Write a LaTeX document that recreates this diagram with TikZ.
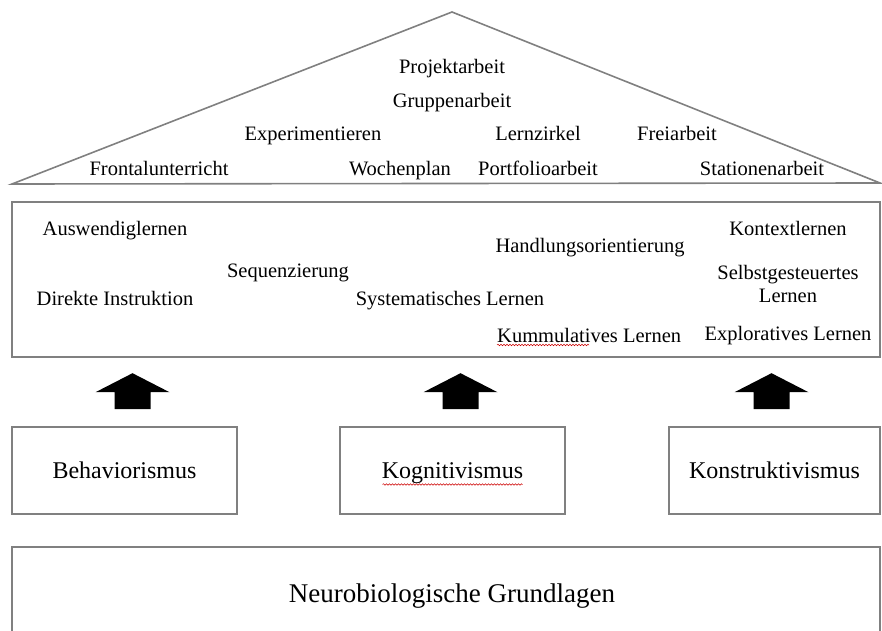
\documentclass[tikz,border=0pt]{standalone}
\usepackage{fontspec}
\setmainfont{Liberation Serif}
\usepackage{tikz}
\usetikzlibrary{calc,decorations.pathmorphing}

\begin{document}
\begin{tikzpicture}[
  x=1pt, y=1pt,
  frame/.style={draw=gray, line width=1.6pt},
  word/.style={font=\fontsize{20.5}{23}\selectfont, inner sep=0pt, text height=0.72em, text depth=0.22em, yshift=-5pt},
  twoline/.style={font=\fontsize{20.5}{23}\selectfont, inner sep=0pt, align=center},
  theory/.style={frame, minimum width=225pt, minimum height=87pt, font=\fontsize{24}{28}\selectfont, inner sep=0pt, text height=0.72em+10pt, text depth=0.22em},
  squiggle/.style={draw=red!80!black, line width=0.5pt, decorate, decoration={snake, amplitude=0.8pt, segment length=3pt}}
]
\useasboundingbox (0,0) rectangle (882,630);
% roof
\draw[frame, line join=miter] (12,446) -- (452,618) -- (880,447) -- cycle;
\node[word] (proj) at (452,564) {Projektarbeit};
\node[word] (grup) at (452,530) {Gruppenarbeit};
\node[word] (expe) at (313,497) {Experimentieren};
\node[word] (lern) at (538,497) {Lernzirkel};
\node[word] (frei) at (677,497) {Freiarbeit};
\node[word] (fron) at (159,462) {Frontalunterricht};
\node[word] (woch) at (400,462) {Wochenplan};
\node[word] (port) at (538,462) {Portfolioarbeit};
\node[word] (stat) at (762,462) {Stationenarbeit};

% methods
\draw[frame] (12,273) rectangle (880,428);
\node[word] (ausw) at (115,402) {Auswendiglernen};
\node[word] (sequ) at (288,360) {Sequenzierung};
\node[word] (dire) at (115,332) {Direkte Instruktion};
\node[word] (syst) at (450,332) {Systematisches Lernen};
\node[word] (hand) at (590,385) {Handlungsorientierung};
\node[word] (kont) at (788,402) {Kontextlernen};
\node[twoline] (selb) at (788,346) {Selbstgesteuertes\\Lernen};
\node[word, anchor=base west] (kumm) at (497,293) {Kummulatives Lernen};
\node[word] (expl) at (788,297) {Exploratives Lernen};
\draw[squiggle] ([yshift=-3pt]kumm.base west) -- ++(92,0);

% theories
\node[theory] (beh) at (124.5,159.5) {Behaviorismus};
\node[theory] (kog) at (452.5,159.5) {Kognitivismus};
\node[theory, minimum width=211pt] (kon) at (774.5,159.5) {Konstruktivismus};
\draw[squiggle] ($(kog.center)+(-70,-14)$) -- ++(140,0);
\foreach \b/\dx in {beh/8, kog/8, kon/-3}
  \fill ([xshift=\dx pt-18pt, yshift=17pt]\b.north) -- ++(36,0) -- ++(0,17) -- ++(19,0)
    -- ++(-37,19) -- ++(-37,-19) -- ++(19,0) -- cycle;

% base
\draw[frame] (12,-20) rectangle (880,83);
\node[font=\fontsize{27}{30}\selectfont] (neuro) at (452,34) {Neurobiologische Grundlagen};
\end{tikzpicture}
\end{document}
